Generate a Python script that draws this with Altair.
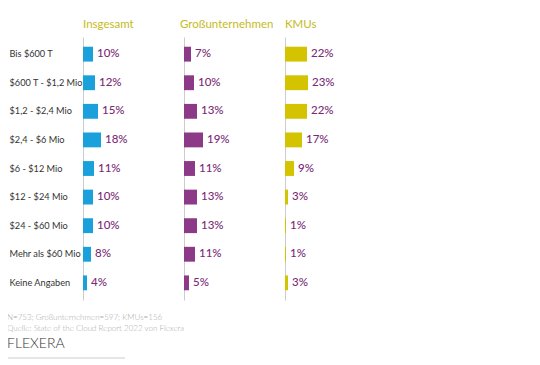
import altair as alt
import pandas as pd

categories = ["Bis $600 T", "$600 T - $1,2 Mio", "$1,2 - $2,4 Mio", "$2,4 - $6 Mio",
              "$6 - $12 Mio", "$12 - $24 Mio", "$24 - $60 Mio", "Mehr als $60 Mio",
              "Keine Angaben"]
series_names = ["Insgesamt", "Großunternehmen", "KMUs"]
insgesamt = [10, 12, 15, 18, 11, 10, 10, 8, 4]
gross = [7, 10, 13, 19, 11, 13, 13, 11, 5]
kmus = [22, 23, 22, 17, 9, 3, 1, 1, 3]
colors = ["#1aa1dc", "#8c3a88", "#d3c300"]

note1 = "N=753; Großunternehmen=597; KMUs=156"
note2 = "Quelle: State of the Cloud Report 2022 von Flexera"
logo = "FLEXERA"

rows = []
for name, vals in zip(series_names, [insgesamt, gross, kmus]):
    for c, v in zip(categories, vals):
        rows.append({"category": c, "series": name, "value": v})
df = pd.DataFrame(rows)

FONT = "Lato"
TITLE_COLOR = "#c4bb1a"
LABEL_COLOR = "#7b2a76"
H = 263
W = 80
XMAX = 77


def panel(series, color, first, title_dx):
    base = alt.Chart(df).transform_filter(alt.datum.series == series).transform_calculate(
        label="datum.value + '%'")
    if first:
        yaxis = alt.Axis(title=None, labelAlign="left", labelPadding=74, ticks=False, tickSize=0,
                         domainColor="#cccccc", labelFont=FONT, labelFontSize=9.2,
                         labelColor="#333333", labelLimit=0)
    else:
        yaxis = alt.Axis(title=None, labels=False, ticks=False, tickSize=0, domainColor="#cccccc")
    yenc = alt.Y("category:N", sort=categories,
                 scale=alt.Scale(paddingInner=0.48, paddingOuter=0.34), axis=yaxis)
    xenc = alt.X("value:Q", scale=alt.Scale(domain=[0, XMAX]), axis=None)
    bars = base.mark_bar(color=color).encode(x=xenc, y=yenc)
    text = base.mark_text(align="left", dx=4, font=FONT, fontSize=11.5, color=LABEL_COLOR,
                          fontWeight=500).encode(x="value:Q", y=alt.Y("category:N", sort=categories),
                                                 text="label:N")
    layers = [bars, text]
    if first:
        n1 = alt.Chart(pd.DataFrame({"t": [note1]})).mark_text(
            align="left", baseline="middle", font=FONT, fontSize=8, color="#aaaaaa", fontWeight=300
        ).encode(x=alt.value(-76), y=alt.value(281), text="t:N")
        n2 = alt.Chart(pd.DataFrame({"t": [note2]})).mark_text(
            align="left", baseline="middle", font=FONT, fontSize=8, color="#aaaaaa", fontWeight=300
        ).encode(x=alt.value(-76), y=alt.value(292), text="t:N")
        lg = alt.Chart(pd.DataFrame({"t": [logo]})).mark_text(
            align="left", baseline="middle", font=FONT, fontSize=14, color="#333333", fontWeight=300
        ).encode(x=alt.value(-76), y=alt.value(307), text="t:N")
        rl = alt.Chart(pd.DataFrame({"t": [0]})).mark_rule(color="#cccccc", strokeWidth=1).encode(
            x=alt.value(-76), x2=alt.value(42), y=alt.value(321))
        layers += [n1, n2, lg, rl]
    return alt.layer(*layers).properties(
        width=W, height=H,
        title=alt.TitleParams(series, anchor="start", frame="group", color=TITLE_COLOR,
                              font=FONT, fontSize=11.5, fontWeight="normal", offset=7, dx=title_dx))


chart = alt.hconcat(
    panel("Insgesamt", colors[0], True, 0),
    panel("Großunternehmen", colors[1], False, -4),
    panel("KMUs", colors[2], False, 0),
    spacing=21, bounds="flush"
).properties(
    padding={"left": -2, "top": 10, "right": 5, "bottom": 0}
).configure_view(stroke=None)

chart.save("out.html", embed_options={"renderer": "svg", "actions": False})
